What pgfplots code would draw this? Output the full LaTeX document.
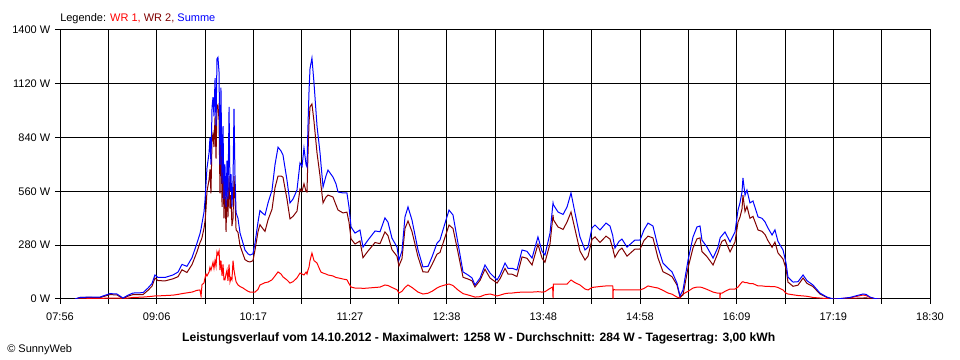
\documentclass[border=0pt]{standalone}
\usepackage{pgfplots}
\pgfplotsset{compat=1.18}
\usepackage{pgfplotstable}
\usepackage{fontspec}
\setmainfont{Liberation Sans}
\definecolor{wrone}{RGB}{255,0,0}
\definecolor{wrtwo}{RGB}{128,0,0}
\definecolor{summe}{RGB}{0,0,255}

% t = minutes since midnight, power in W
\pgfplotstableread{
t sum wr2 wr1
486.9 0 0 0
490.6 8 8 0
497.9 10 8 2
505.1 10 7 3
512.4 28 23 5
517.5 26 21 5
521.9 5 2 3
525.6 20 15 5
529.2 31 23 8
536.5 33 23 10
540.1 57 45 12
543.0 80 66 14
545.2 125 109 16
547.4 112 96 16
552.5 112 94 18
558.3 125 105 20
562.0 140 116 24
564.9 180 152 28
568.5 170 138 32
572.2 215 179 36
575.8 290 245 45
578.0 340 293 47
578.8 365 305 15
579.5 395 320 75
580.9 450 367 83
581.7 515 405 110
582.4 600 470 130
583.1 680 560 120
584.6 760 620 140
585.3 840 675 165
586.0 700 550 150
586.8 1000 830 170
587.5 1050 860 190
588.2 950 790 160
589.0 1150 950 200
589.7 900 730 170
590.4 1250 1000 245
591.1 1258 1010 230
591.9 1180 930 250
592.6 700 550 150
593.3 1100 900 200
594.1 600 480 120
594.8 900 720 180
595.5 520 420 100
596.2 700 600 100
597.0 480 350 130
597.7 720 570 150
598.4 520 425 95
599.2 1000 640 180
599.9 560 470 90
600.6 650 540 110
601.3 480 380 100
602.1 620 420 200
602.8 990 640 150
603.5 650 530 120
604.3 450 360 90
605.7 420 347 73
607.2 343 278 65
609.4 290 233 57
610.8 255 205 50
613.0 235 195 40
614.5 229 193 36
616.6 235 199 36
618.1 291 255 36
620.3 400 350 50
621.7 460 387 73
623.9 445 365 80
625.4 437 352 85
627.6 500 412 88
630.5 567 467 100
632.7 700 580 120
634.9 790 640 141
637.1 770 640 130
638.5 749 634 115
641.4 619 520 99
643.6 500 417 83
645.8 520 430 90
648.7 567 457 110
650.9 708 573 135
652.4 690 560 130
653.8 786 600 125
655.3 700 560 140
656.0 687 557 130
656.7 900 750 150
657.5 1088 921 167
658.2 1200 1000 200
659.6 1254 1015 239
661.1 1124 924 200
663.3 900 760 187
665.5 760 640 150
666.2 700 590 140
667.7 583 500 135
669.8 640 530 130
671.3 671 541 125
674.9 635 531 120
677.1 600 490 112
678.6 557 463 110
682.2 552 448 104
685.1 552 452 100
686.6 479 400 80
688.1 375 313 62
691.0 343 286 57
694.6 359 302 57
696.8 270 215 55
700.5 307 250 57
705.6 354 294 60
709.2 350 288 62
712.8 422 349 73
715.0 400 330 70
717.9 317 257 60
721.6 270 222 48
723.0 203 172 31
725.2 250 210 40
727.4 427 367 60
729.6 479 406 73
732.5 411 351 60
736.9 255 219 36
740.5 167 141 26
744.2 170 140 30
747.1 219 179 40
750.7 290 233 57
752.9 307 242 65
756.6 395 322 73
759.5 463 385 78
762.4 437 367 70
766.0 291 244 47
769.7 141 113 28
773.3 125 104 21
776.2 110 95 15
778.4 73 63 10
782.1 109 97 12
785.7 177 155 22
789.4 135 109 26
794.5 99 83 16
796.6 125 105 20
800.3 187 159 28
802.5 160 130 30
805.4 160 129 31
809.0 151 117 34
812.7 255 219 36
816.3 248 212 36
820.0 213 177 36
824.3 323 285 38
827.3 248 212 36
829.4 229 191 38
833.1 343 288 55
835.0 480 418 62
835.3 500 438 5
835.6 490 412 78
838.9 453 375 78
842.6 440 362 78
845.5 479 401 78
848.4 552 453 99
851.3 448 363 85
854.9 323 250 73
858.6 255 203 52
860.8 270 223 47
863.7 370 310 60
865.9 385 323 62
869.5 359 294 65
873.9 395 327 68
876.8 380 312 68
878.8 330 262 68
879.0 320 262 2
879.2 310 250 50
880.4 265 217 48
883.4 300 253 47
885.5 312 265 47
889.2 270 223 47
895.0 307 260 47
898.7 307 260 47
901.6 360 305 55
904.5 395 327 68
908.1 380 318 62
911.8 270 213 57
915.4 187 142 45
919.1 160 129 31
922.0 141 116 25
925.6 83 73 10
927.8 16 11 5
930.0 47 21 26
933.7 203 163 40
937.3 323 266 57
940.2 375 313 62
942.4 380 318 62
943.8 307 247 60
947.5 270 220 50
951.9 213 177 36
955.5 270 240 30
956.8 310 270 30
957.0 315 275 0
957.2 320 280 30
958.4 330 300 30
960.6 349 309 40
964.3 297 245 52
967.9 349 297 52
970.1 463 401 62
971.5 500 425 75
973.0 557 469 88
973.7 630 540 90
975.2 540 455 85
976.6 567 482 85
978.8 500 420 80
981.0 510 430 80
984.7 427 359 68
987.6 420 352 68
989.8 401 335 66
991.9 370 304 66
994.9 333 269 64
997.0 360 296 64
999.2 300 240 60
1002.9 255 208 47
1005.1 187 157 30
1006.5 114 88 26
1010.2 88 66 22
1013.8 90 72 18
1017.5 125 109 16
1020.4 95 81 14
1024.7 73 65 8
1029.8 31 26 5
1034.9 10 8 2
1039.3 0 0 0
1044.4 2 0 2
1051.7 8 2 6
1056.8 18 4 14
1061.2 26 5 21
1063.4 24 6 18
1066.3 10 2 8
1069.9 2 0 2
1073.6 0 0 0
}\data

\begin{document}
\begin{tikzpicture}
\begin{axis}[
  at={(45pt,45.75pt)}, anchor=south west,
  scale only axis, width=652.5pt, height=201.75pt,
  xmin=476, xmax=1110, ymin=0, ymax=1400,
  xtick={476,546.444,616.889,687.333,757.778,828.222,898.667,969.111,1039.556,1110},
  xticklabels={07:56,09:06,10:17,11:27,12:38,13:48,14:58,16:09,17:19,18:30},
  minor xtick={511.222,581.667,652.111,722.556,793,863.444,933.889,1004.333,1074.778},
  ytick={0,280,560,840,1120,1400},
  yticklabels={0 W,280 W,560 W,840 W,1120 W,1400 W},
  grid=both,
  major grid style={black, line width=0.75pt},
  minor grid style={black, line width=0.75pt},
  axis line style={black, line width=0.75pt},
  tick align=outside, xtick pos=left, ytick pos=left,
  major tick length=3.75pt, minor tick length=3.75pt,
  every tick/.style={black, line width=0.75pt},
  tick label style={font=\fontsize{8.25}{10}\selectfont, black},
  xticklabel style={yshift=-3pt},
  every axis plot/.append style={line width=0.75pt, sharp plot},
]
\addplot[wrone] table[x=t, y=wr1] {\data};
\addplot[wrtwo] table[x=t, y=wr2] {\data};
\addplot[summe] table[x=t, y=sum] {\data};
\end{axis}
\node[anchor=base west, inner sep=0, font=\fontsize{8.25}{10}\selectfont] at (45pt,253.9pt)
  {Legende: \textcolor{wrone}{WR 1,} \textcolor{wrtwo}{WR 2,} \textcolor{summe}{Summe}};
\node[anchor=base, inner sep=0, font=\bfseries\fontsize{9.1}{11}\selectfont] at (359pt,13.9pt)
  {Leistungsverlauf vom 14.10.2012 - Maximalwert: 1258 W - Durchschnitt: 284 W - Tagesertrag: 3,00 kWh};
\node[anchor=base west, inner sep=0, font=\fontsize{8.25}{10}\selectfont] at (5.25pt,5.25pt)
  {\textcopyright\ SunnyWeb};
\pgfresetboundingbox
\path[use as bounding box] (0,0) rectangle (720pt,270pt);
\end{tikzpicture}
\end{document}
